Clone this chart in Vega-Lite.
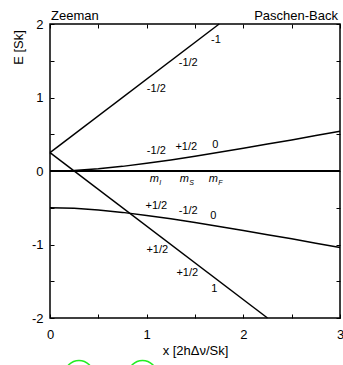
{
  "$schema": "https://vega.github.io/schema/vega-lite/v6.json",
  "width": 290,
  "height": 294,
  "autosize": {"type": "none"},
  "padding": {"left": 50, "top": 24, "right": 3, "bottom": 47},
  "config": {
    "view": {"stroke": "black", "strokeWidth": 1.5},
    "font": "Liberation Sans",
    "axis": {"domain": false, "grid": false, "tickColor": "black", "tickWidth": 1, "labelColor": "black", "titleColor": "black", "labelFontSize": 13, "titleFontSize": 13, "titleFontWeight": "normal", "labelFlush": false, "labelOverlap": false, "labelBound": false}
  },
  "datasets": {
    "lines": [
      {"s": "a", "x": 0, "y": 0.25}, {"s": "a", "x": 1.75, "y": 2},
      {"s": "b", "x": 0, "y": 0.25}, {"s": "b", "x": 2.25, "y": -2},
      {"s": "c", "x": 0, "y": 0}, {"s": "c", "x": 0.25, "y": 0.008}, {"s": "c", "x": 0.5, "y": 0.03}, {"s": "c", "x": 0.75, "y": 0.063}, {"s": "c", "x": 1, "y": 0.104}, {"s": "c", "x": 1.25, "y": 0.15}, {"s": "c", "x": 1.5, "y": 0.201}, {"s": "c", "x": 1.75, "y": 0.254}, {"s": "c", "x": 2, "y": 0.309}, {"s": "c", "x": 2.25, "y": 0.366}, {"s": "c", "x": 2.5, "y": 0.423}, {"s": "c", "x": 2.75, "y": 0.482}, {"s": "c", "x": 3, "y": 0.541},
      {"s": "d", "x": 0, "y": -0.5}, {"s": "d", "x": 0.25, "y": -0.508}, {"s": "d", "x": 0.5, "y": -0.53}, {"s": "d", "x": 0.75, "y": -0.563}, {"s": "d", "x": 1, "y": -0.604}, {"s": "d", "x": 1.25, "y": -0.65}, {"s": "d", "x": 1.5, "y": -0.701}, {"s": "d", "x": 1.75, "y": -0.754}, {"s": "d", "x": 2, "y": -0.809}, {"s": "d", "x": 2.25, "y": -0.866}, {"s": "d", "x": 2.5, "y": -0.923}, {"s": "d", "x": 2.75, "y": -0.982}, {"s": "d", "x": 3, "y": -1.041}
    ],
    "zero": [{"x": 0, "y": 0}, {"x": 3, "y": 0}],
    "labels": [
      {"x": 1.717, "y": 1.78, "t": "-1"},
      {"x": 1.43, "y": 1.475, "t": "-1/2"},
      {"x": 1.1, "y": 1.12, "t": "-1/2"},
      {"x": 1.1, "y": 0.27, "t": "-1/2"},
      {"x": 1.41, "y": 0.32, "t": "+1/2"},
      {"x": 1.71, "y": 0.36, "t": "0"},
      {"x": 1.1, "y": -0.48, "t": "+1/2"},
      {"x": 1.43, "y": -0.55, "t": "-1/2"},
      {"x": 1.69, "y": -0.61, "t": "0"},
      {"x": 1.11, "y": -1.07, "t": "+1/2"},
      {"x": 1.42, "y": -1.39, "t": "+1/2"},
      {"x": 1.7, "y": -1.6, "t": "1"}
    ],
    "m": [
      {"x": 1.1, "y": -0.11, "sub": "I"},
      {"x": 1.41, "y": -0.11, "sub": "S"},
      {"x": 1.71, "y": -0.11, "sub": "F"}
    ],
    "corner": [
      {"x": 0, "y": 2, "t": "Zeeman", "side": "l"},
      {"x": 3, "y": 2, "t": "Paschen-Back", "side": "r"}
    ],
    "green": [{"x": 0.3, "y": -2.77}, {"x": 0.957, "y": -2.77}]
  },
  "layer": [
    {
      "data": {"name": "lines"},
      "mark": {"type": "line", "color": "black", "strokeWidth": 1.5},
      "encoding": {
        "x": {"field": "x", "type": "quantitative", "scale": {"domain": [0, 3], "nice": false, "zero": false},
          "axis": {"orient": "bottom", "values": [0, 0.5, 1, 1.5, 2, 2.5, 3], "labelExpr": "datum.value % 1 === 0 ? '' + datum.value : ''", "tickSize": -4, "labelPadding": 14, "title": "x [2hΔν/Sk]", "titleY": 32, "titleBaseline": "middle"}},
        "y": {"field": "y", "type": "quantitative", "scale": {"domain": [-2, 2], "nice": false, "zero": false},
          "axis": {"orient": "left", "values": [-2, -1.5, -1, -0.5, 0, 0.5, 1, 1.5, 2], "labelExpr": "datum.value % 1 === 0 ? '' + datum.value : ''", "tickSize": -4, "labelPadding": 11, "title": "E [Sk]", "titleX": -32, "titleY": 23, "titleAlign": "center", "titleBaseline": "middle", "titleAngle": -90}},
        "detail": {"field": "s"}
      }
    },
    {
      "data": {"name": "zero"},
      "mark": {"type": "line", "color": "black", "strokeWidth": 2},
      "encoding": {
        "x": {"field": "x", "type": "quantitative", "scale": {"domain": [0, 3], "nice": false, "zero": false},
          "axis": {"orient": "top", "values": [0, 0.5, 1, 1.5, 2, 2.5, 3], "labels": false, "tickSize": -4, "title": null}},
        "y": {"field": "y", "type": "quantitative", "scale": {"domain": [-2, 2], "nice": false, "zero": false},
          "axis": {"orient": "right", "values": [-2, -1.5, -1, -0.5, 0, 0.5, 1, 1.5, 2], "labels": false, "tickSize": -4, "title": null}}
      }
    },
    {
      "data": {"name": "labels"},
      "mark": {"type": "text", "fontSize": 11, "color": "black", "align": "center", "baseline": "middle"},
      "encoding": {
        "x": {"field": "x", "type": "quantitative", "axis": null},
        "y": {"field": "y", "type": "quantitative", "axis": null},
        "text": {"field": "t"}
      }
    },
    {
      "data": {"name": "m"},
      "mark": {"type": "text", "fontSize": 11, "fontStyle": "italic", "color": "black", "align": "center", "baseline": "middle", "dx": -2},
      "encoding": {
        "x": {"field": "x", "type": "quantitative", "axis": null},
        "y": {"field": "y", "type": "quantitative", "axis": null},
        "text": {"value": "m"}
      }
    },
    {
      "data": {"name": "m"},
      "mark": {"type": "text", "fontSize": 7, "fontStyle": "italic", "color": "black", "align": "left", "baseline": "middle", "dx": 3, "dy": 4},
      "encoding": {
        "x": {"field": "x", "type": "quantitative", "axis": null},
        "y": {"field": "y", "type": "quantitative", "axis": null},
        "text": {"field": "sub"}
      }
    },
    {
      "data": {"name": "corner"},
      "transform": [{"filter": "datum.side === 'l'"}],
      "mark": {"type": "text", "fontSize": 13, "color": "black", "align": "left", "baseline": "alphabetic", "dx": 1, "dy": -4},
      "encoding": {
        "x": {"field": "x", "type": "quantitative", "axis": null},
        "y": {"field": "y", "type": "quantitative", "axis": null},
        "text": {"field": "t"}
      }
    },
    {
      "data": {"name": "corner"},
      "transform": [{"filter": "datum.side === 'r'"}],
      "mark": {"type": "text", "fontSize": 13, "color": "black", "align": "right", "baseline": "alphabetic", "dx": -2, "dy": -4},
      "encoding": {
        "x": {"field": "x", "type": "quantitative", "axis": null},
        "y": {"field": "y", "type": "quantitative", "axis": null},
        "text": {"field": "t"}
      }
    },
    {
      "data": {"name": "green"},
      "mark": {"type": "point", "shape": "circle", "filled": false, "stroke": "#22ee22", "strokeWidth": 1.5, "size": 804, "clip": false, "opacity": 1},
      "encoding": {
        "x": {"field": "x", "type": "quantitative", "axis": null},
        "y": {"field": "y", "type": "quantitative", "axis": null}
      }
    }
  ],
  "resolve": {"axis": {"x": "independent", "y": "independent"}}
}
